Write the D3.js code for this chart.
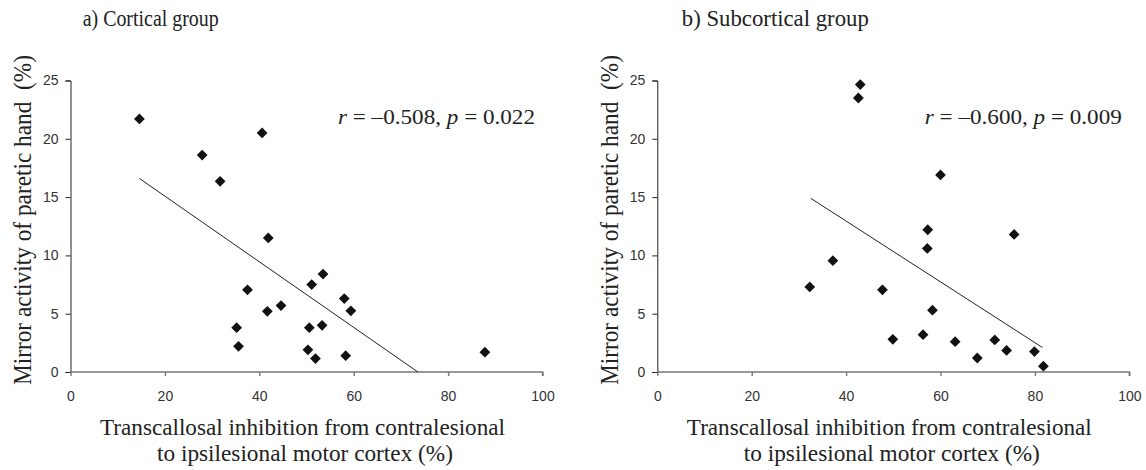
<!DOCTYPE html>
<html lang="en">
  <head>
    <meta charset="UTF-8" />
    <title>Mirror activity vs transcallosal inhibition</title>
    <script src="https://d3js.org/d3.v7.min.js"></script>
    <style>
      body {
        margin: 0;
        background: #fff;
      }
      .serif {
        font-family: "Liberation Serif", "Times New Roman", serif;
        fill: #222;
        white-space: pre;
      }
      .tick text {
        font-family: "Liberation Sans", Arial, sans-serif;
        font-size: 14px;
        fill: #333;
      }
      .fit {
        fill: none;
        stroke: #222;
        stroke-width: 1;
      }
    </style>
  </head>
  <body>
    <svg width="1146" height="470"></svg>

    <script>
      // values
      const xTicks = [0, 20, 40, 60, 80, 100];
      const yTicks = [0, 5, 10, 15, 20, 25];

      const cortX = [14.6, 40.6, 27.9, 31.7, 41.9, 53.5, 51.1, 37.5, 58.0, 44.6,
        41.7, 59.4, 35.2, 50.6, 53.3, 35.6, 50.3, 51.9, 58.3, 87.8];
      const cortY = [21.7, 20.5, 18.6, 16.35, 11.5, 8.4, 7.5, 7.05, 6.3, 5.7,
        5.2, 5.25, 3.8, 3.8, 4.0, 2.2, 1.9, 1.15, 1.4, 1.7];
      const cortFitX = [14.6, 73.6];
      const cortFitY = [16.6, 0];

      const subX = [43.0, 42.6, 60.0, 57.3, 75.6, 57.2, 37.2, 32.3, 47.7, 58.3,
        56.3, 49.9, 63.1, 71.5, 74.0, 67.8, 79.9, 81.8];
      const subY = [24.65, 23.5, 16.9, 12.2, 11.8, 10.6, 9.55, 7.3, 7.05, 5.3,
        3.2, 2.8, 2.6, 2.75, 1.85, 1.2, 1.75, 0.5];
      const subFitX = [32.5, 81.6];
      const subFitY = [14.9, 2.1];

      const svg = d3.select("svg");

      function drawPanel(opts) {
        const g = svg.append("g").attr("transform", `translate(${opts.dx},0)`);

        const x = d3.scaleLinear().domain([0, 100]).range([70.5, 542.5]);
        const y = d3.scaleLinear().domain([0, 25]).range([372, 80.5]);

        // y axis (black)
        const ya = g
          .append("g")
          .attr("transform", `translate(${x(0)},0)`)
          .call(d3.axisLeft(y).tickValues(yTicks).tickSize(5).tickPadding(7));
        ya.selectAll("path, line").attr("stroke", "#222");

        // x axis (gray, a bit heavier)
        const xa = g
          .append("g")
          .attr("transform", `translate(0,${y(0)})`)
          .call(d3.axisBottom(x).tickValues(xTicks).tickSize(4).tickPadding(15).tickSizeOuter(4));
        xa.selectAll("path, line").attr("stroke", "#777").attr("stroke-width", 1.4);
        xa.select(".domain").attr("d", `M${x(0)},0H${x(100)}V4`);

        // regression line
        const fit = d3.range(opts.fitX.length).map((i) => [opts.fitX[i], opts.fitY[i]]);
        g.append("path")
          .attr("class", "fit")
          .attr("d", d3.line().x((d) => x(d[0])).y((d) => y(d[1]))(fit));

        // diamonds
        const sym = d3.symbol().type(d3.symbolSquare).size(58);
        g.selectAll(".pt")
          .data(d3.range(opts.xs.length))
          .join("path")
          .attr("class", "pt")
          .attr("d", sym)
          .attr("fill", "#111")
          .attr("transform", (i) => `translate(${x(opts.xs[i])},${y(opts.ys[i])}) rotate(45)`);

        // panel title
        g.append("text")
          .attr("class", "serif")
          .attr("x", opts.titleX)
          .attr("y", 26)
          .attr("font-size", 23)
          .attr("textLength", opts.titleLen)
          .attr("lengthAdjust", "spacingAndGlyphs")
          .text(opts.title);

        // y label
        g.append("text")
          .attr("class", "serif")
          .attr("transform", "translate(31,220) rotate(-90)")
          .attr("text-anchor", "middle")
          .attr("font-size", 26)
          .attr("textLength", 330)
          .attr("lengthAdjust", "spacingAndGlyphs")
          .text("Mirror activity of paretic hand  (%)");

        // x label, two lines
        g.append("text")
          .attr("class", "serif")
          .attr("x", 302.5)
          .attr("y", 435)
          .attr("text-anchor", "middle")
          .attr("font-size", 23)
          .attr("textLength", 405)
          .attr("lengthAdjust", "spacingAndGlyphs")
          .text("Transcallosal inhibition from contralesional");
        g.append("text")
          .attr("class", "serif")
          .attr("x", 305)
          .attr("y", 461)
          .attr("text-anchor", "middle")
          .attr("font-size", 23)
          .attr("textLength", 296)
          .attr("lengthAdjust", "spacingAndGlyphs")
          .text("to ipsilesional motor cortex (%)");

        // correlation note
        const note = g
          .append("text")
          .attr("class", "serif")
          .attr("x", 535)
          .attr("y", 124)
          .attr("text-anchor", "end")
          .attr("font-size", 22)
          .attr("textLength", 197)
          .attr("lengthAdjust", "spacingAndGlyphs");
        note.append("tspan").attr("font-style", "italic").text("r");
        note.append("tspan").text(` = \u2013${opts.r}, `);
        note.append("tspan").attr("font-style", "italic").text("p");
        note.append("tspan").text(` = ${opts.p}`);
      }

      drawPanel({
        dx: 0,
        xs: cortX,
        ys: cortY,
        fitX: cortFitX,
        fitY: cortFitY,
        title: "a) Cortical group",
        titleX: 82.7,
        titleLen: 136,
        r: "0.508",
        p: "0.022",
      });

      drawPanel({
        dx: 586.8,
        xs: subX,
        ys: subY,
        fitX: subFitX,
        fitY: subFitY,
        title: "b) Subcortical group",
        titleX: 95,
        titleLen: 187,
        r: "0.600",
        p: "0.009",
      });
    </script>
  </body>
</html>
